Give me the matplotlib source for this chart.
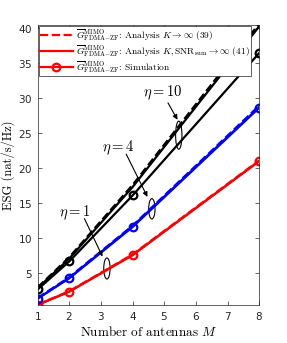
import matplotlib

matplotlib.use("Agg")
import matplotlib.pyplot as plt
from matplotlib.patches import Ellipse

plt.rcParams["mathtext.fontset"] = "cm"
plt.rcParams["axes.formatter.use_mathtext"] = True

# number of antennas
M = [1, 2, 4, 8]

# simulation results
sim_eta1 = [0.5, 2.4, 7.6, 21.0]
sim_eta4 = [1.4, 4.3, 11.6, 28.6]
sim_eta10 = [2.7, 6.7, 16.1, 36.4]

# analysis K -> inf (39)
an39_eta1 = [0.55, 2.45, 7.7, 21.1]
an39_eta4 = [1.5, 4.45, 11.8, 28.9]
an39_eta10 = [3.0, 7.3, 17.6, 40.6]

# analysis K, SNR_sum -> inf (41)
an41_eta1 = [0.5, 2.4, 7.6, 21.0]
an41_eta4 = [1.4, 4.35, 11.7, 28.7]
an41_eta10 = [2.9, 7.1, 17.3, 40.2]

colors = ["red", "blue", "black"]
G = r"$\overline{G}^{\mathrm{MIMO}}_{\mathrm{FDMA\!-\!ZF}}$"
labels = [
    G + r": Analysis $K \rightarrow \infty$ (39)",
    G + r": Analysis $K, \mathrm{SNR}_{\mathrm{sum}} \rightarrow \infty$ (41)",
    G + r": Simulation",
]

# eta annotations: label, text pos, arrow start, arrow end, ellipse centre, ellipse height
notes = [
    (r"$\eta=10$", (4.96, 30.7), (5.12, 29.3), (5.42, 26.9), (5.46, 24.7), 4.0),
    (r"$\eta=4$", (3.54, 22.9), (3.80, 22.0), (4.47, 15.9), (4.61, 14.2), 2.9),
    (r"$\eta=1$", (2.18, 13.6), (2.48, 12.8), (3.05, 7.4), (3.19, 5.7), 3.0),
]

fig = plt.figure(figsize=(2.87, 3.43), dpi=100)
ax = fig.add_axes([0.131, 0.111, 0.772, 0.816])

handles = []
for c, a39, a41, sim in zip(
    colors,
    [an39_eta1, an39_eta4, an39_eta10],
    [an41_eta1, an41_eta4, an41_eta10],
    [sim_eta1, sim_eta4, sim_eta10],
):
    h1, = ax.plot(M, a39, "--", color=c, lw=1.6)
    h2, = ax.plot(M, a41, "-", color=c, lw=1.6)
    h3, = ax.plot(M, sim, "-o", color=c, lw=1.6, ms=5.5, mfc="none", mew=1.6)
    if c == "red":
        handles = [h1, h2, h3]

ax.set_xlim(1, 8)
ax.set_ylim(0.5, 40.4)
ax.set_xticks(range(1, 9))
ax.set_yticks([5, 10, 15, 20, 25, 30, 35, 40])
ax.tick_params(direction="in", top=True, right=True, labelsize=7.5, length=3,
               width=0.5, colors="#262626")
for s in ax.spines.values():
    s.set_linewidth(0.5)
    s.set_color("#262626")

ax.set_xlabel(r"Number of antennas $M$", family="cmr10", fontsize=9.5, labelpad=2)
ax.set_ylabel("ESG (nat/s/Hz)", family="cmr10", fontsize=9, labelpad=2)

leg = ax.legend(handles, labels, loc="upper left", handlelength=3.5,
                borderpad=0.1, labelspacing=0.0, handletextpad=0.3,
                borderaxespad=0.15, fancybox=False, framealpha=1,
                prop={"family": "cmr10", "size": 6.8})
leg.get_frame().set_linewidth(0.5)
leg.get_frame().set_edgecolor("#262626")

for txt, tpos, a0, a1, epos, eh in notes:
    ax.add_patch(Ellipse(epos, 0.2, eh, fill=False, lw=0.8, color="black"))
    ax.annotate("", xy=a1, xytext=a0,
                arrowprops=dict(arrowstyle="-|>", lw=0.8, color="black",
                                mutation_scale=7, shrinkA=0, shrinkB=0))
    ax.text(tpos[0], tpos[1], txt, fontsize=10.5, ha="center", va="center")

fig.savefig("out.png", dpi=100)
